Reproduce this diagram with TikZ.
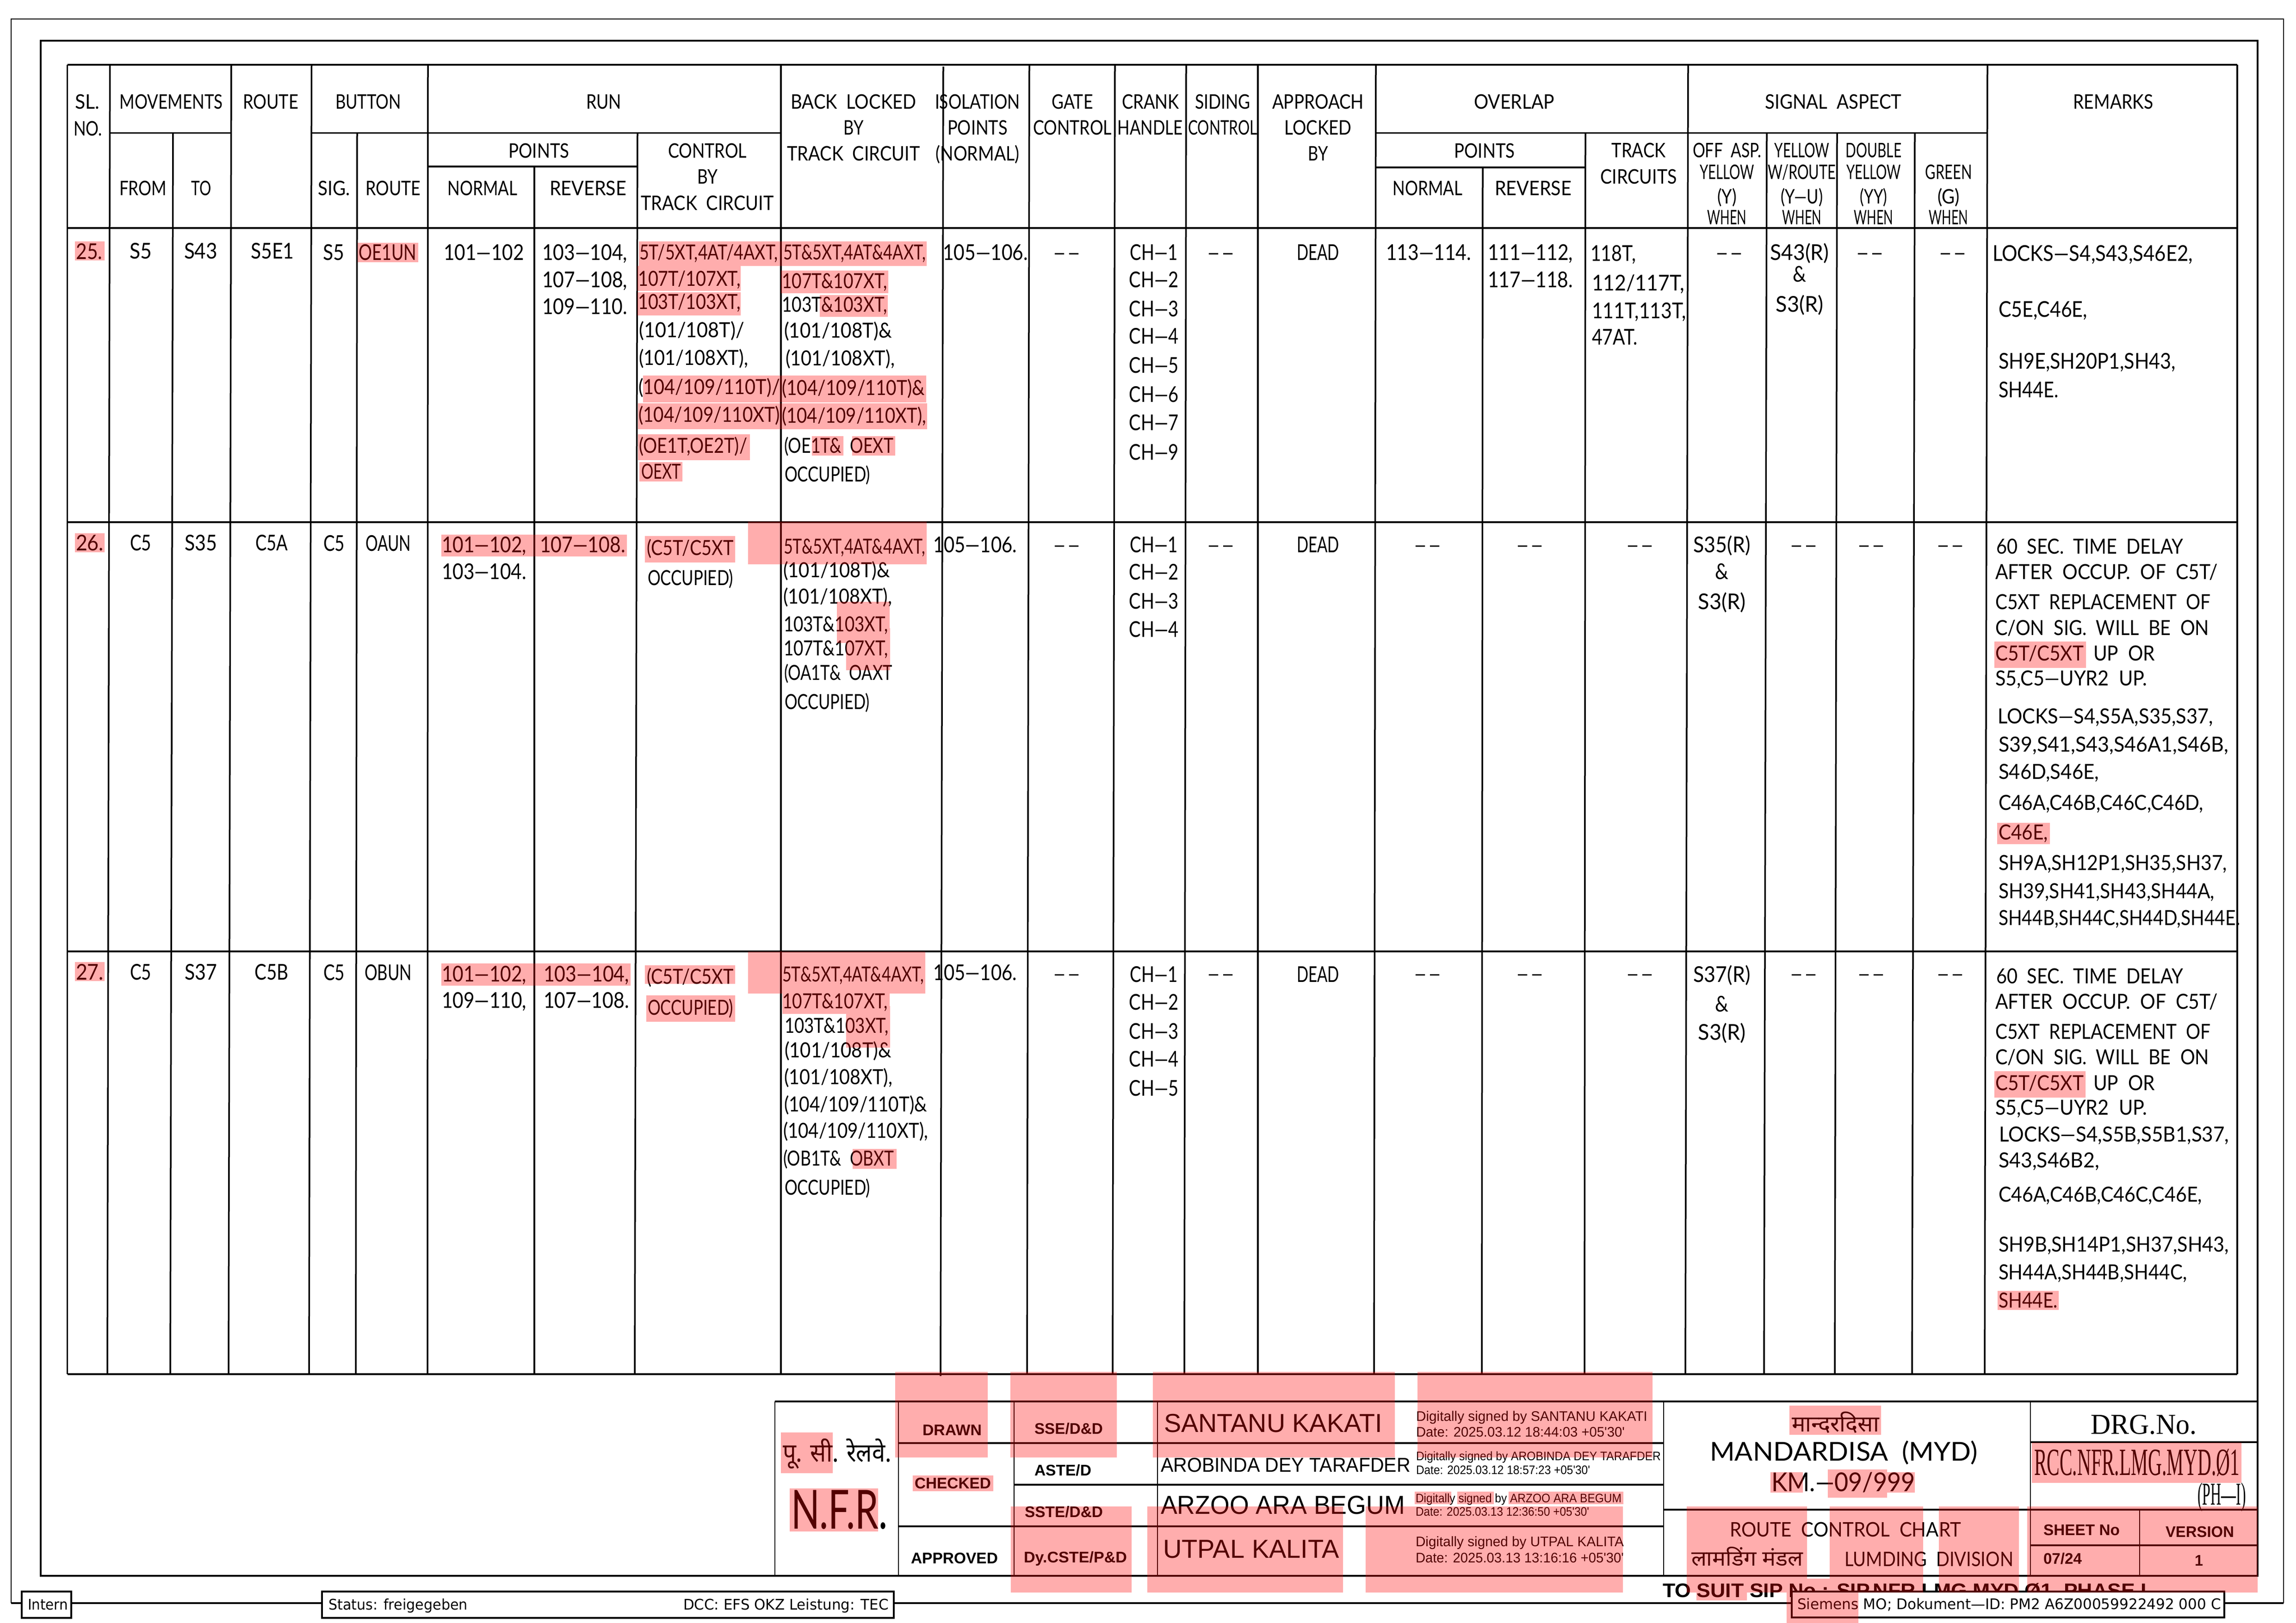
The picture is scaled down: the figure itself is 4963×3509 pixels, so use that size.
\documentclass[tikz,border=0pt]{standalone}
\usepackage{graphicx}
\usepackage{fontspec}
\setmainfont{Lato}
\newfontfamily\arialf{Liberation Sans}
\newfontfamily\serf{Liberation Serif}
\newfontfamily\footf{DejaVu Sans}
\newfontfamily\hin[Script=Devanagari]{Noto Sans}
\newsavebox\hbx
\newcounter{tn}
\newcommand\hfit[2]{\sbox\hbx{#2}\pgfmathsetmacro\hr{#1*0.24/\the\wd\hbx}\scalebox{\hr}[1]{\usebox\hbx}}
\newcommand\tL[5][]{\stepcounter{tn}\node[txt,anchor=base west,name=t\arabic{tn},#1] at (#2,#3) {\hfit{#4}{#5}};}
\newcommand\tC[5][]{\stepcounter{tn}\node[txt,anchor=base,name=t\arabic{tn},#1] at (#2,#3) {\hfit{#4}{#5}};}
\newcommand\rl[4]{\draw[tl] (#1,#3) -- (#2,#4);}
\newcommand\dsh[2]{\tC{#1}{#2}{56}{—\kern0.25em—}}
\tikzset{
  txt/.style={inner sep=0pt,outer sep=0pt,font=\fontsize{10.8}{13}\selectfont,text=black},
  hd/.style={font=\fontsize{10.4}{13}\selectfont},
  big/.style={font=\fontsize{11.3}{13}\selectfont},
  abold/.style={font=\arialf\bfseries\fontsize{8}{10}\selectfont},
  tl/.style={line width=0.84pt,black},
  th/.style={line width=0.6pt,black},
  hl/.style={fill=red,opacity=0.32,draw=none},
}
\begin{document}
\begin{tikzpicture}[x=0.24pt,y=-0.24pt]
\fill[white] (0,0) rectangle (4963,3509);
\useasboundingbox (0,0) rectangle (4963,3509);
% frames
\draw[th] (24,3466) -- (24,41) -- (4936,41) -- (4936,3466);
\draw[tl] (88,3407) -- (88,88) -- (4880,88) -- (4880,3407) -- cycle;
% table horizontals
\draw[line width=1pt] (145.5,140) -- (4836,140);
\draw[tl] (145.5,493) -- (4836,493);
\draw[tl] (145.5,1129) -- (4836,1129);
\draw[tl] (145.5,2057) -- (4836,2057);
\draw[line width=1pt] (145.5,2971) -- (4836,2971);
\draw[tl] (237.7,287.5) -- (500,287.5);
\draw[tl] (673.5,287.5) -- (1688,287.5);
\draw[tl] (2974,287.5) -- (4296,287.5);
\draw[tl] (925,360) -- (1378,360);
\draw[tl] (2974,362) -- (3427,362);
% full verticals
\rl{145.5}{145.5}{140}{2971}
\rl{237.7}{232}{140}{2971}
\rl{500}{494}{140}{2971}
\rl{673.5}{668}{140}{2971}
\rl{925}{924}{140}{2971}
\rl{1688}{1688}{140}{2971}
\rl{2039}{2033}{144}{2975}
\rl{2225}{2220}{140}{2971}
\rl{2410}{2405}{140}{2971}
\rl{2564}{2560}{140}{2971}
\rl{2719}{2719}{140}{2971}
\rl{2974}{2970}{140}{2971}
\rl{3649}{3643}{140}{2971}
\rl{4296}{4290}{140}{2971}
\draw[line width=1pt] (4836,140) -- (4836,2971);
% partial verticals
\rl{374}{368}{287.5}{2971}
\rl{772}{769}{287.5}{2971}
\rl{1378}{1372}{287.5}{2971}
\rl{3427}{3425}{287.5}{2971}
\rl{3819}{3813}{287.5}{2971}
\rl{3971}{3966}{287.5}{2971}
\rl{4139}{4133}{287.5}{2971}
\rl{1155}{1155}{360}{2971}
\rl{3205}{3203}{362}{2971}
% title block lines
\draw[th] (1675,3407) -- (1675,3030);
\draw[tl] (1675,3030) -- (4882,3030);
\draw[th] (1942,3030) -- (1942,3407);
\draw[th] (2192,3030) -- (2192,3407);
\draw[th] (2502,3030) -- (2502,3407);
\draw[th] (3596,3030) -- (3596,3407);
\draw[th] (4389,3030) -- (4389,3407);
\draw[th] (4625,3264) -- (4625,3407);
\draw[tl] (1942,3120) -- (3596,3120);
\draw[tl] (2192,3210) -- (3596,3210);
\draw[tl] (1942,3300) -- (3596,3300);
\draw[tl] (4389,3118) -- (4882,3118);
\draw[tl] (3596,3264) -- (4882,3264);
\draw[tl] (4389,3341) -- (4882,3341);
\draw[line width=1.1pt] (88,3407) -- (4882,3407);
% footer line
\draw[tl] (24,3466) -- (4936,3466);
% headers
\tC[hd]{189}{236}{53}{SL.}
\tC[hd]{190}{294}{62}{NO.}
\tC[hd]{370}{236}{223}{MOVEMENTS}
\tC[hd]{585}{236}{120}{ROUTE}
\tC[hd]{796}{236}{142}{BUTTON}
\tC[hd]{1305}{236}{76}{RUN}
\tC[hd]{1845}{236}{271}{BACK~~LOCKED}
\tC[hd]{1845}{292}{43}{BY}
\tC[hd]{1845}{348}{287}{TRACK~~CIRCUIT}
\tC[hd]{2113}{236}{184}{ISOLATION}
\tC[hd]{2113}{292}{130}{POINTS}
\tC[hd]{2113}{348}{181}{(NORMAL)}
\tC[hd]{2318}{236}{89}{GATE}
\tC[hd]{2318}{292}{170}{CONTROL}
\tC[hd]{2487}{236}{124}{CRANK}
\tC[hd]{2486}{292}{141}{HANDLE}
\tC[hd]{2643}{236}{120}{SIDING}
\tC[hd]{2643}{292}{150}{CONTROL}
\tC[hd]{2849}{236}{198}{APPROACH}
\tC[hd]{2849}{292}{145}{LOCKED}
\tC[hd]{2849}{348}{43}{BY}
\tC[hd]{3273}{236}{174}{OVERLAP}
\tC[hd]{3963}{236}{295}{SIGNAL~~ASPECT}
\tC[hd]{4568}{236}{173}{REMARKS}
\tC[hd]{1165}{342}{131}{POINTS}
\tC[hd]{1529}{342}{170}{CONTROL}
\tC[hd]{1529}{398}{44}{BY}
\tC[hd]{1529}{455}{287}{TRACK~~CIRCUIT}
\tC[hd]{309}{423}{102}{FROM}
\tC[hd]{435}{423}{43}{TO}
\tC[hd]{722}{423}{69}{SIG.}
\tC[hd]{850}{423}{119}{ROUTE}
\tC[hd]{1043}{423}{151}{NORMAL}
\tC[hd]{1271}{423}{166}{REVERSE}
\tC[hd]{3209}{342}{131}{POINTS}
\tC[hd]{3086}{423}{151}{NORMAL}
\tC[hd]{3314}{423}{166}{REVERSE}
\tC[hd]{3542}{341}{117}{TRACK}
\tC[hd]{3542}{398}{165}{CIRCUITS}
\tC[hd]{3733}{341}{148}{OFF~~ASP.}
\tC[hd]{3733}{388}{118}{YELLOW}
\tC[hd]{3733}{441}{42}{(Y)}
\tC[hd]{3733}{486}{85}{WHEN}
\tC[hd]{3895}{341}{119}{YELLOW}
\tC[hd]{3895}{388}{147}{W/ROUTE}
\tC[hd]{3895}{441}{91}{(Y—U)}
\tC[hd]{3895}{486}{85}{WHEN}
\tC[hd]{4050}{341}{121}{DOUBLE}
\tC[hd]{4050}{388}{118}{YELLOW}
\tC[hd]{4050}{441}{59}{(YY)}
\tC[hd]{4050}{486}{85}{WHEN}
\tC[hd]{4212}{388}{101}{GREEN}
\tC[hd]{4212}{441}{48}{(G)}
\tC[hd]{4212}{486}{85}{WHEN}
% row 25
\tC[big]{193}{561}{57}{25.}
\tC[big]{304}{560}{48}{S5}
\tC[big]{434}{560}{72}{S43}
\tC[big]{589}{560}{93}{S5E1}
\tC[big]{721}{563}{46}{S5}
\tC[big]{838}{563}{125}{OE1UN}
\tC[big]{1046}{563}{173}{101—102}
\tL[big]{1172}{563}{184}{103—104,}
\tL[big]{1172}{622}{184}{107—108,}
\tL[big]{1172}{680}{184}{109—110.}
\tL{1382}{562}{300}{5T/5XT,4AT/4AXT,}
\tL{1379}{619}{222}{107T/107XT,}
\tL{1379}{669}{222}{103T/103XT,}
\tL{1381}{730}{228}{(101/108T)/}
\tL{1381}{790}{236}{(101/108XT),}
\tL{1380}{853}{306}{(104/109/110T)/}
\tL{1380}{913}{306}{(104/109/110XT)}
\tL{1381}{980}{234}{(OE1T,OE2T)/}
\tL{1386}{1036}{86}{OEXT}
\tL{1693}{562}{308}{5T\&5XT,4AT\&4AXT,}
\tL{1690}{624}{228}{107T\&107XT,}
\tL{1690}{675}{228}{103T\&103XT,}
\tL{1695}{731}{233}{(101/108T)\&}
\tL{1698}{791}{236}{(101/108XT),}
\tL{1690}{855}{309}{(104/109/110T)\&}
\tL{1690}{915}{312}{(104/109/110XT),}
\tL{1695}{980}{236}{(OE1T\&~~OEXT}
\tL{1696}{1042}{185}{OCCUPIED)}
\tL[big]{2038}{563}{184}{105—106.}
\dsh{2306}{563}
\tC[big]{2494}{563}{103}{CH—1}
\tC[big]{2494}{622}{107}{CH—2}
\tC[big]{2494}{685}{107}{CH—3}
\tC[big]{2494}{744}{107}{CH—4}
\tC[big]{2494}{807}{107}{CH—5}
\tC[big]{2494}{870}{107}{CH—6}
\tC[big]{2494}{931}{107}{CH—7}
\tC[big]{2494}{995}{107}{CH—9}
\dsh{2639}{563}
\tC[big]{2849}{563}{92}{DEAD}
\tC[big]{3088}{563}{184}{113—114.}
\tL[big]{3216}{563}{184}{111—112,}
\tL[big]{3216}{622}{184}{117—118.}
\tL[big]{3438}{565}{98}{118T,}
\tL[big]{3441}{629}{200}{112/117T,}
\tL[big]{3441}{689}{204}{111T,113T,}
\tL[big]{3441}{746}{99}{47AT.}
\dsh{3738}{563}
\tC[big]{3890}{563}{127}{S43(R)}
\tC[big]{3890}{610}{29}{\&}
\tC[big]{3890}{675}{103}{S3(R)}
\dsh{4042}{563}
\dsh{4221}{563}
\tL[big]{4307}{565}{433}{LOCKS—S4,S43,S46E2,}
\tL[big]{4320}{686}{192}{C5E,C46E,}
\tL[big]{4320}{798}{383}{SH9E,SH20P1,SH43,}
\tL[big]{4320}{860}{130}{SH44E.}
% row 26
\tC[big]{194}{1191}{60}{26.}
\tC[big]{304}{1191}{46}{C5}
\tC[big]{434}{1191}{70}{S35}
\tC[big]{587}{1191}{70}{C5A}
\tC[big]{722}{1192}{46}{C5}
\tC[big]{839}{1192}{98}{OAUN}
\tL[big]{955}{1194}{183}{101—102,}
\tL[big]{1167}{1194}{185}{107—108.}
\tL[big]{955}{1253}{183}{103—104.}
\tL{1398}{1201}{188}{(C5T/C5XT}
\tL{1400}{1265}{185}{OCCUPIED)}
\tL{1694}{1197}{306}{5T\&5XT,4AT\&4AXT,}
\tL{1693}{1248}{231}{(101/108T)\&}
\tL{1693}{1305}{235}{(101/108XT),}
\tL{1694}{1365}{226}{103T\&103XT,}
\tL{1694}{1417}{226}{107T\&107XT,}
\tL{1695}{1470}{234}{(OA1T\&~~OAXT}
\tL{1696}{1533}{184}{OCCUPIED)}
\tL[big]{2017}{1194}{181}{105—106.}
\dsh{2306}{1194}
\tC[big]{2494}{1194}{103}{CH—1}
\tC[big]{2494}{1254}{107}{CH—2}
\tC[big]{2494}{1317}{107}{CH—3}
\tC[big]{2494}{1377}{107}{CH—4}
\dsh{2639}{1194}
\tC[big]{2849}{1194}{92}{DEAD}
\dsh{3086}{1194}
\dsh{3307}{1194}
\dsh{3545}{1194}
\tC[big]{3722}{1194}{123}{S35(R)}
\tC[big]{3722}{1252}{29}{\&}
\tC[big]{3722}{1318}{103}{S3(R)}
\dsh{3899}{1194}
\dsh{4045}{1194}
\dsh{4216}{1194}
\tL{4315}{1198}{404}{60~~SEC.~~TIME~~DELAY}
\tL{4313}{1253}{481}{AFTER~~OCCUP.~~OF~~C5T/}
\tL{4313}{1318}{465}{C5XT~~REPLACEMENT~~OF}
\tL{4313}{1373}{462}{C/ON~~SIG.~~WILL~~BE~~ON}
\tL{4313}{1428}{345}{C5T/C5XT~~UP~~OR}
\tL{4313}{1482}{328}{S5,C5—UYR2~~UP.}
\tL{4318}{1564}{466}{LOCKS—S4,S5A,S35,S37,}
\tL{4320}{1625}{497}{S39,S41,S43,S46A1,S46B,}
\tL{4320}{1684}{217}{S46D,S46E,}
\tL{4320}{1751}{443}{C46A,C46B,C46C,C46D,}
\tL{4320}{1815}{107}{C46E,}
\tL{4320}{1881}{494}{SH9A,SH12P1,SH35,SH37,}
\tL{4320}{1942}{467}{SH39,SH41,SH43,SH44A,}
\tL{4320}{2000}{522}{SH44B,SH44C,SH44D,SH44E.}
% row 27
\tC[big]{194}{2118}{60}{27.}
\tC[big]{304}{2118}{46}{C5}
\tC[big]{434}{2118}{70}{S37}
\tC[big]{587}{2118}{73}{C5B}
\tC[big]{722}{2119}{46}{C5}
\tC[big]{839}{2119}{102}{OBUN}
\tL[big]{955}{2122}{183}{101—102,}
\tL[big]{1175}{2122}{185}{103—104,}
\tL[big]{955}{2179}{183}{109—110,}
\tL[big]{1175}{2179}{185}{107—108.}
\tL{1398}{2127}{188}{(C5T/C5XT}
\tL{1400}{2194}{185}{OCCUPIED)}
\tL{1691}{2122}{306}{5T\&5XT,4AT\&4AXT,}
\tL{1691}{2180}{228}{107T\&107XT,}
\tL{1696}{2233}{225}{103T\&103XT,}
\tL{1696}{2286}{231}{(101/108T)\&}
\tL{1695}{2344}{234}{(101/108XT),}
\tL{1695}{2403}{309}{(104/109/110T)\&}
\tL{1693}{2460}{313}{(104/109/110XT),}
\tL{1693}{2520}{239}{(OB1T\&~~OBXT}
\tL{1696}{2583}{185}{OCCUPIED)}
\tL[big]{2017}{2119}{181}{105—106.}
\dsh{2306}{2121}
\tC[big]{2494}{2123}{103}{CH—1}
\tC[big]{2494}{2183}{107}{CH—2}
\tC[big]{2494}{2246}{107}{CH—3}
\tC[big]{2494}{2306}{107}{CH—4}
\tC[big]{2494}{2369}{107}{CH—5}
\dsh{2639}{2121}
\tC[big]{2849}{2123}{92}{DEAD}
\dsh{3086}{2121}
\dsh{3307}{2121}
\dsh{3545}{2121}
\tC[big]{3722}{2123}{123}{S37(R)}
\tC[big]{3722}{2187}{29}{\&}
\tC[big]{3722}{2248}{103}{S3(R)}
\dsh{3899}{2121}
\dsh{4045}{2121}
\dsh{4216}{2121}
\tL{4315}{2126}{404}{60~~SEC.~~TIME~~DELAY}
\tL{4313}{2181}{481}{AFTER~~OCCUP.~~OF~~C5T/}
\tL{4313}{2246}{465}{C5XT~~REPLACEMENT~~OF}
\tL{4313}{2301}{462}{C/ON~~SIG.~~WILL~~BE~~ON}
\tL{4313}{2357}{345}{C5T/C5XT~~UP~~OR}
\tL{4313}{2410}{328}{S5,C5—UYR2~~UP.}
\tL{4321}{2468}{497}{LOCKS—S4,S5B,S5B1,S37,}
\tL{4320}{2524}{218}{S43,S46B2,}
\tL{4320}{2598}{440}{C46A,C46B,C46C,C46E,}
\tL{4320}{2706}{498}{SH9B,SH14P1,SH37,SH43,}
\tL{4320}{2766}{407}{SH44A,SH44B,SH44C,}
\tL{4320}{2827}{128}{SH44E.}
% title block
\tL[font=\hin\fontsize{13.4}{15}\selectfont]{1692}{3160}{235}{पू. सी. रेलवे.}
\tL[font=\fontsize{28}{30}\selectfont]{1710}{3305}{208}{N.F.R.}
\tL[abold]{1994}{3103}{128}{DRAWN}
\tL[abold]{1977}{3218}{165}{CHECKED}
\tL[abold]{1969}{3380}{188}{APPROVED}
\tL[abold]{2236}{3100}{148}{SSE/D\&D}
\tL[abold]{2236}{3190}{123}{ASTE/D}
\tL[abold]{2215}{3280}{169}{SSTE/D\&D}
\tL[abold]{2213}{3378}{223}{Dy.CSTE/P\&D}
\tL[font=\arialf\fontsize{13.5}{15}\selectfont]{2516}{3096}{472}{SANTANU KAKATI}
\tL[font=\arialf\fontsize{10.4}{12}\selectfont]{2509}{3182}{540}{AROBINDA DEY TARAFDER}
\tL[font=\arialf\fontsize{13.5}{15}\selectfont]{2509}{3273}{528}{ARZOO ARA BEGUM}
\tL[font=\arialf\fontsize{13.5}{15}\selectfont]{2514}{3368}{381}{UTPAL KALITA}
\tikzset{sga/.style={font=\arialf\fontsize{7.2}{8}\selectfont},sgb/.style={font=\arialf\fontsize{6.4}{8}\selectfont}}
\tL[sga]{3061}{3072}{500}{Digitally signed by SANTANU KAKATI}
\tL[sga]{3061}{3106}{451}{Date: 2025.03.12 18:44:03 +05'30'}
\tL[sgb]{3061}{3157}{529}{Digitally signed by AROBINDA DEY TARAFDER}
\tL[sgb]{3061}{3187}{376}{Date: 2025.03.12 18:57:23 +05'30'}
\tL[sgb]{3060}{3248}{445}{Digitally signed by ARZOO ARA BEGUM}
\tL[sgb]{3060}{3277}{375}{Date: 2025.03.13 12:36:50 +05'30'}
\tL[sga]{3060}{3343}{450}{Digitally signed by UTPAL KALITA}
\tL[sga]{3060}{3378}{450}{Date: 2025.03.13 13:16:16 +05'30'}
\tL[font=\hin\fontsize{11.6}{14}\selectfont]{3873}{3095}{189}{मान्दरदिसा}
\tL[font=\fontsize{13.5}{15}\selectfont]{3696}{3158}{579}{MANDARDISA~~(MYD)}
\tL[font=\fontsize{13.5}{15}\selectfont]{3829}{3224}{311}{KM.—09/999}
\tL[hd]{3739}{3322}{500}{ROUTE~~CONTROL~~CHART}
\tL[font=\hin\fontsize{11}{14}\selectfont]{3656}{3385}{241}{लामडिंग मंडल}
\tL[hd]{3987}{3386}{365}{LUMDING~~DIVISION}
\tL[font=\serf\fontsize{15}{17}\selectfont]{4519}{3100}{229}{DRG.No.}
\tL[font=\serf\fontsize{20}{22}\selectfont]{4397}{3189}{444}{RCC.NFR.LMG.MYD.Ø1}
\tL[font=\serf\fontsize{16.5}{18}\selectfont]{4750}{3253}{105}{(PH—I)}
\tL[abold]{4417}{3319}{165}{SHEET No}
\tL[abold]{4681}{3323}{148}{VERSION}
\tL[abold]{4417}{3381}{83}{07/24}
\tC[abold]{4753}{3385}{18}{1}
\tL[font=\arialf\bfseries\fontsize{10.2}{12}\selectfont]{3594}{3453}{1046}{TO SUIT SIP No : SIP.NFR.LMG.MYD.Ø1~~PHASE I}
% footer boxes
\tikzset{fb/.style={font=\footf\fontsize{7.6}{9}\selectfont}}
\draw[tl,fill=white] (47,3441) rectangle (154,3498);
\draw[tl,fill=white] (696,3441) rectangle (1932,3498);
\draw[tl,fill=white] (3873,3441) rectangle (4808,3497);
\tL[fb]{60}{3480}{87}{Intern}
\tL[fb]{710}{3480}{301}{Status: freigegeben}
\tL[fb]{1477}{3480}{444}{DCC: EFS OKZ Leistung: TEC}
\tL[fb]{3885}{3479}{916}{Siemens MO; Dokument—ID: PM2 A6Z00059922492 000 C}
% highlights (all in one path)
\fill[hl]
 (162,522) rectangle (226,563) (773,525) rectangle (904,567)
 (1381,522) rectangle (2003,575) (1378,575) rectangle (1601,629) (1378,632) rectangle (1601,682)
 (1390,812) rectangle (2002,870) (1379,872) rectangle (2004,928)
 (1379,939) rectangle (1621,995) (1382,999) rectangle (1475,1041)
 (1688,585) rectangle (1920,634) (1772,638) rectangle (1919,685)
 (1755,943) rectangle (1823,985) (1842,943) rectangle (1935,985)
 (162,1153) rectangle (226,1194) (954,1156) rectangle (1355,1203)
 (162,2080) rectangle (226,2121) (954,2083) rectangle (1363,2131)
 (1394,1159) rectangle (1589,1216) (1617,1128) rectangle (2003,1220)
 (1809,1301) rectangle (1923,1390) (1829,1358) rectangle (1924,1449)
 (1394,2087) rectangle (1589,2127) (1397,2152) rectangle (1589,2209)
 (1617,2057) rectangle (2000,2148) (1691,2148) rectangle (1923,2192)
 (1829,2175) rectangle (1924,2265) (1843,2484) rectangle (1938,2527)
 (4311,1387) rectangle (4509,1444) (4317,1779) rectangle (4431,1825)
 (4311,2316) rectangle (4508,2373) (4318,2791) rectangle (4450,2832)
 (1935,2966) rectangle (2135,3151) (2184,2966) rectangle (2414,3151)
 (2492,2966) rectangle (3015,3151) (3064,2966) rectangle (3572,3151)
 (1688,3097) rectangle (1800,3185) (1707,3218) rectangle (1898,3311)
 (1973,3190) rectangle (2147,3224)
 (2185,3257) rectangle (2446,3443) (2480,3257) rectangle (2903,3443)
 (2952,3257) rectangle (3508,3443)
 (3058,3225) rectangle (3137,3252) (3150,3225) rectangle (3229,3252) (3261,3225) rectangle (3509,3252)
 (3667,3443) rectangle (3776,3460)
 (3646,3257) rectangle (3906,3443) (3955,3257) rectangle (4157,3443) (3906,3413) rectangle (3955,3443)
 (4191,3257) rectangle (4364,3443) (4382,3257) rectangle (4880,3443)
 (3862,3443) rectangle (4017,3509)
 (3868,3039) rectangle (4066,3102) (3827,3183) rectangle (3897,3227)
 (3951,3177) rectangle (4079,3238) (4079,3183) rectangle (4139,3227)
 (4392,3119) rectangle (4845,3206);
\end{tikzpicture}
\end{document}
